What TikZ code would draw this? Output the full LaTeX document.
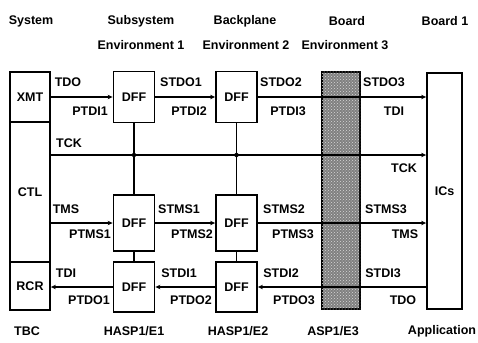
\documentclass[tikz,border=0pt]{standalone}
\usepackage{fontspec}
\setmainfont{Liberation Sans}
\usetikzlibrary{arrows.meta,patterns}
\begin{document}
\begin{tikzpicture}[x=1pt,y=-1pt,
  lbl/.style={font=\bfseries\fontsize{12.5}{14}\selectfont,inner sep=0pt},
  box/.style={draw,line width=1.8pt,inner sep=0pt,lbl},
  dff/.style={box,minimum width=41pt,minimum height=51pt},
  sig/.style={line width=1.7pt},
  arr/.style={sig,-{Stealth[length=5pt,width=4.5pt]}},
  jdot/.style={circle,fill,inner sep=0pt,minimum size=4.5pt},
  shade/.style={draw,line width=1.2pt,fill=black!50,postaction={pattern=crosshatch dots,pattern color=white!85!black}}]
\useasboundingbox (0,0) rectangle (478,342);

% header
\node[lbl] (hsys) at (31,21) {System};
\node[lbl] (hsub) at (141,21) {Subsystem};
\node[lbl] (hback) at (245,21) {Backplane};
\node[lbl] (hboard) at (347,21) {Board};
\node[lbl] (hboard1) at (445,21) {Board 1};
\node[lbl] (henv1) at (141,45) {Environment 1};
\node[lbl] (henv2) at (246,45) {Environment 2};
\node[lbl] (henv3) at (345,45) {Environment 3};

% board band
\node[shade,minimum width=38pt,minimum height=237pt,inner sep=0pt] (board) at (341,190.5) {};

% TBC
\node[box,minimum width=40pt,minimum height=50pt] (xmt) at (30,97) {XMT};
\node[box,minimum width=40pt,minimum height=140pt] (ctl) at (30,192) {CTL};
\node[box,minimum width=40pt,minimum height=48pt] (rcr) at (30,286) {RCR};

% DFFs
\node[dff] (d11) at (134,97) {DFF};
\node[dff] (d12) at (236.5,97) {DFF};
\node[dff,minimum height=56pt] (d21) at (134,223) {DFF};
\node[dff,minimum height=56pt] (d22) at (236.5,223) {DFF};
\node[dff,minimum height=50pt] (d31) at (134,287) {DFF};
\node[dff,minimum height=50pt] (d32) at (236.5,287) {DFF};

% ICs
\node[box,minimum width=35pt,minimum height=236pt] (ics) at (444.5,191) {ICs};

\coordinate (tcky) at (0,155);

% row 1
\draw[arr] (xmt.east) -- (d11.west);
\draw[arr] (d11.east) -- (d12.west);
\draw[arr] (d12.east) -- (d12.east -| ics.west);
% TCK
\draw[arr] (ctl.east |- tcky) -- (ics.west |- tcky);
% row 2
\draw[arr] (ctl.east |- d21) -- (d21.west);
\draw[arr] (d21.east) -- (d22.west);
\draw[arr] (d22.east) -- (d22.east -| ics.west);
% row 3
\draw[arr] (d31.west) -- (d31.west -| rcr.east);
\draw[arr] (d32.west) -- (d31.east);
\draw[arr] (d32.east -| ics.west) -- (d32.east);
% verticals
\draw[sig] (d11.south) -- (d21.north);
\draw[sig] (d12.south) -- (d22.north);
\draw[sig] (d21.south) -- (d31.north);
\draw[sig] (d22.south) -- (d32.north);
\node[jdot] (j1) at (d11 |- tcky) {};
\node[jdot] (j2) at (d12 |- tcky) {};

% row 1 labels
\node[lbl] (ltdo) at (68,82) {TDO};
\node[lbl] (lptdi1) at (90,111) {PTDI1};
\node[lbl] (lstdo1) at (181,82) {STDO1};
\node[lbl] (lptdi2) at (189,111) {PTDI2};
\node[lbl] (lstdo2) at (281,82) {STDO2};
\node[lbl] (lptdi3) at (288,111) {PTDI3};
\node[lbl] (lstdo3) at (384,82) {STDO3};
\node[lbl] (ltdi) at (394,111) {TDI};
% TCK labels
\node[lbl] (ltckl) at (69,143) {TCK};
\node[lbl] (ltckr) at (404,168) {TCK};
% row 2 labels
\node[lbl] (ltms) at (66,209) {TMS};
\node[lbl] (lptms1) at (90,234) {PTMS1};
\node[lbl] (lstms1) at (179,209) {STMS1};
\node[lbl] (lptms2) at (192,234) {PTMS2};
\node[lbl] (lstms2) at (284,209) {STMS2};
\node[lbl] (lptms3) at (293,234) {PTMS3};
\node[lbl] (lstms3) at (386,209) {STMS3};
\node[lbl] (ltmsr) at (405,234) {TMS};
% row 3 labels
\node[lbl] (ltdil) at (66,273) {TDI};
\node[lbl] (lptdo1) at (89,300) {PTDO1};
\node[lbl] (lstdi1) at (179,273) {STDI1};
\node[lbl] (lptdo2) at (191,300) {PTDO2};
\node[lbl] (lstdi2) at (281,273) {STDI2};
\node[lbl] (lptdo3) at (294,300) {PTDO3};
\node[lbl] (lstdi3) at (383,273) {STDI3};
\node[lbl] (ltdor) at (403,300) {TDO};

% footer
\node[lbl] (ftbc) at (27,331) {TBC};
\node[lbl] (fh1) at (134,331) {HASP1/E1};
\node[lbl] (fh2) at (238,331) {HASP1/E2};
\node[lbl] (fasp) at (333,331) {ASP1/E3};
\node[lbl] (fapp) at (442,331) {Application};
\end{tikzpicture}
\end{document}
